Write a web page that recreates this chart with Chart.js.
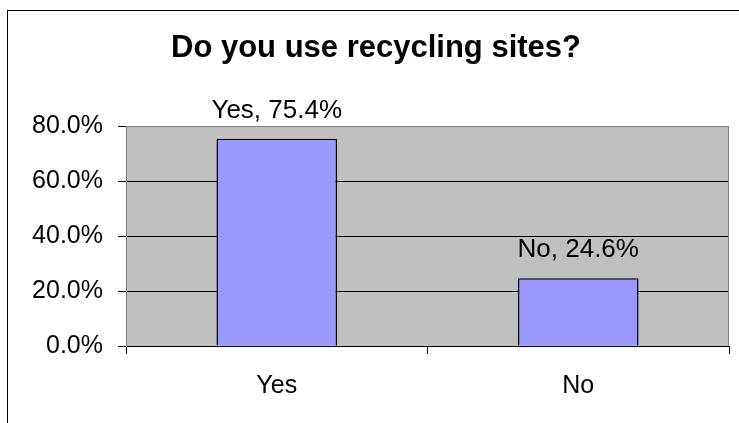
<!DOCTYPE html>
<html>
<head>
<meta charset="utf-8">
<script src="https://cdn.jsdelivr.net/npm/chart.js@4.4.1/dist/chart.umd.min.js"></script>
<style>
  html, body { margin: 0; padding: 0; background: #fff; }
</style>
</head>
<body>
<canvas id="chartRecycling" width="739" height="423"></canvas>
<script>
const chartTitle = 'Do you use recycling sites?';
const categories = ['Yes', 'No'];
const percentages = [75.4, 24.6];
const yTicks = [0, 20, 40, 60, 80];

const FONT = '"Liberation Sans", Arial, sans-serif';

// gray plot background, value labels over the bars, title and outer frame
const excelLook = {
    id: 'excelLook',
    beforeDraw(chart) {
        const { ctx, chartArea: a } = chart;
        ctx.save();
        ctx.fillStyle = '#C0C0C0';
        ctx.fillRect(a.left, a.top, a.right - a.left, a.bottom - a.top);
        ctx.restore();
    },
    afterDatasetsDraw(chart) {
        const { ctx, chartArea: a } = chart;
        const meta = chart.getDatasetMeta(0);
        ctx.save();
        ctx.strokeStyle = '#808080';
        ctx.lineWidth = 1;
        ctx.beginPath();
        ctx.moveTo(a.right - 0.5, a.top);
        ctx.lineTo(a.right - 0.5, a.bottom);
        ctx.stroke();

        ctx.font = `26px ${FONT}`;
        ctx.textAlign = 'center';
        ctx.textBaseline = 'alphabetic';
        ctx.fillStyle = '#000';
        meta.data.forEach((bar, i) => {
            ctx.fillText(`${categories[i]}, ${percentages[i].toFixed(1)}%`, bar.x, bar.y - 21);
        });
        ctx.restore();
    },
    afterDraw(chart) {
        const { ctx } = chart;
        ctx.save();
        ctx.font = `bold 31px ${FONT}`;
        ctx.textAlign = 'center';
        ctx.textBaseline = 'alphabetic';
        ctx.fillStyle = '#000';
        ctx.fillText(chartTitle, 376, 57);

        ctx.strokeStyle = '#000';
        ctx.lineWidth = 1;
        ctx.strokeRect(7.5, 10.5, 800, 500);
        ctx.restore();
    }
};

const chartRecycling = new Chart(document.getElementById('chartRecycling'), {
    type: 'bar',
    data: {
        labels: categories,
        datasets: [
            {
                data: percentages,
                backgroundColor: '#9999FF',
                borderColor: '#000',
                borderWidth: 1.5,
                barPercentage: 0.4,
                categoryPercentage: 1
            }
        ]
    },
    options: {
        responsive: false,
        animation: false,
        layout: { padding: { top: 126, right: 10, left: 0, bottom: 0 } },
        plugins: {
            legend: { display: false },
            tooltip: { enabled: false },
            title: { display: false }
        },
        scales: {
            x: {
                grid: { offset: true, drawOnChartArea: false, tickLength: 8, color: '#000' },
                border: { color: '#000', width: 1 },
                ticks: { color: '#000', font: { family: FONT, size: 25 }, padding: 17 },
                afterFit(scale) { scale.height = 77; }
            },
            y: {
                min: 0,
                max: 80,
                afterBuildTicks(scale) {
                    scale.ticks = yTicks.map(v => ({ value: v }));
                },
                grid: {
                    color: c => (c.tick && c.tick.value === 80 ? '#808080' : '#000'),
                    tickColor: '#000',
                    tickLength: 8
                },
                border: { color: '#808080', width: 1 },
                ticks: {
                    color: '#000',
                    font: { family: FONT, size: 25 },
                    padding: 15,
                    callback: v => v.toFixed(1) + '%'
                },
                afterFit(scale) { scale.width = 126; }
            }
        }
    },
    plugins: [excelLook]
});
</script>
</body>
</html>
